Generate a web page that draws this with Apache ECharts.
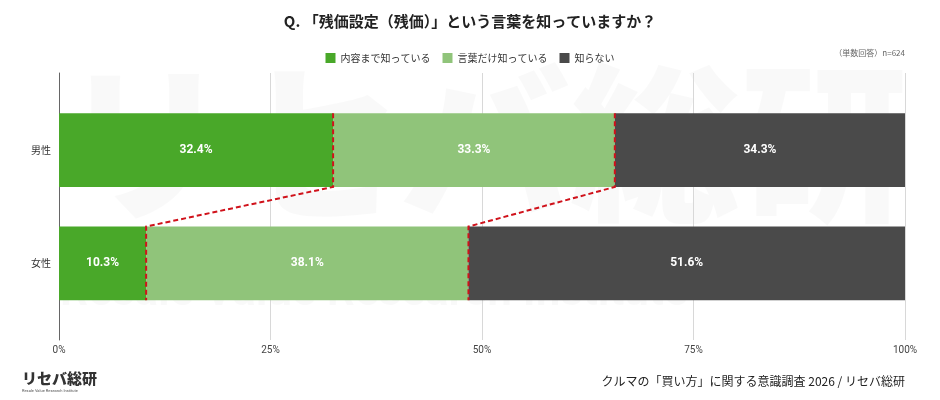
<!DOCTYPE html>
<html><head><meta charset="utf-8">
<script src="https://cdn.jsdelivr.net/npm/echarts@6/dist/echarts.min.js"></script>
<style>html,body{margin:0;padding:0;background:#fff}#c{width:940px;height:400px}</style>
</head><body><div id="c"></div>
<script>
const categories = ['男性', '女性'];
const seriesNames = ['内容まで知っている', '言葉だけ知っている', '知らない'];
const knowContent = [32.4, 10.3];
const knowWordOnly = [33.3, 38.1];
const dontKnow = [34.3, 51.6];
const tickValues = [0, 25, 50, 75, 100];

const FONT = '"Noto Sans CJK JP", "Noto Sans", sans-serif';
const colors = ['#49a829', '#90c47a', '#4a4a4a'];
const BAR_RATIO = 0.65;

const chart = echarts.init(document.getElementById('c'));

function labelFmt(p) { return p.value.toFixed(1) + '%'; }

const barSeries = [knowContent, knowWordOnly, dontKnow].map((d, i) => ({
  name: seriesNames[i], type: 'bar', stack: 'total', xAxisIndex: 0, yAxisIndex: 0,
  barWidth: (BAR_RATIO * 100) + '%', data: d, z: 3,
  itemStyle: { color: colors[i] },
  label: { show: true, position: 'inside', color: '#fff', fontSize: 12, fontWeight: 'bold', fontFamily: 'Roboto, sans-serif', formatter: labelFmt }
}));

const connector = {
  type: 'custom', xAxisIndex: 0, yAxisIndex: 0, z: 5, silent: true,
  data: [[0, 0]],
  renderItem: function (params, api) {
    const band = api.size([0, 1])[1];
    const half = band * BAR_RATIO / 2;
    const children = [];
    const b1 = categories.map((c, i) => knowContent[i]);
    const b2 = categories.map((c, i) => knowContent[i] + knowWordOnly[i]);
    [b1, b2].forEach(b => {
      const p0 = api.coord([b[0], 0]);
      const p1 = api.coord([b[1], 1]);
      children.push({
        type: 'polyline',
        shape: { points: [[p0[0], p0[1] - half], [p0[0], p0[1] + half], [p1[0], p1[1] - half], [p1[0], p1[1] + half]] },
        style: { stroke: '#d0121b', lineWidth: 2, lineDash: [5, 3], fill: null }
      });
    });
    return { type: 'group', children: children };
  }
};

chart.setOption({
  backgroundColor: '#fff',
  animation: false,
  title: {
    text: 'Q. 「残価設定（残価）」という言葉を知っていますか？',
    left: 'center', top: 9,
    textStyle: { fontFamily: FONT, fontSize: 15, fontWeight: 'bold', color: '#222' }
  },
  legend: {
    top: 48, left: 'center', itemWidth: 10, itemHeight: 10, itemGap: 12,
    icon: 'rect', data: seriesNames,
    textStyle: { fontFamily: FONT, fontSize: 10, color: '#333' }
  },
  graphic: [
    { type: 'text', left: 60, top: 58, z: -10, silent: true,
      style: { text: 'リセバ総研', fontFamily: FONT, fontSize: 170, fontWeight: 900, fill: 'rgba(0,0,0,0.022)' } },
    { type: 'text', left: 60, top: 272, z: -10, silent: true,
      style: { text: 'Resale Value Research Institute', fontFamily: 'Roboto, sans-serif', fontSize: 44, fontWeight: 'bold', fill: 'rgba(0,0,0,0.025)' } },
    { type: 'text', right: 35, top: 49,
      style: { text: '（単数回答）n=624', fontFamily: FONT, fontSize: 8, fill: '#666' } },
    { type: 'text', right: 35, top: 375,
      style: { text: 'クルマの「買い方」に関する意識調査 2026 / リセバ総研', fontFamily: FONT, fontSize: 12, fill: '#222' } },
    { type: 'text', left: 22, top: 371,
      style: { text: 'リセバ総研', fontFamily: FONT, fontSize: 15, fontWeight: 900, fill: '#333' } },
    { type: 'text', left: 22, top: 389,
      style: { text: 'Resale Value Research Institute', fontFamily: 'Roboto, sans-serif', fontSize: 4, fill: '#555' } }
  ],
  grid: [
    { left: 59, right: 35, top: 93.5, height: 226.5 },
    { left: 59, right: 35, top: 73, bottom: 60 }
  ],
  xAxis: [
    { gridIndex: 0, type: 'value', min: 0, max: 100, show: false },
    { gridIndex: 1, type: 'value', min: 0, max: 100, interval: 25,
      axisLine: { show: false }, axisTick: { show: false },
      splitLine: { show: true, lineStyle: { color: '#d8d8d8', width: 1 } },
      axisLabel: { margin: 5, fontFamily: 'Roboto, sans-serif', fontSize: 10, color: '#444',
        formatter: v => tickValues.includes(v) ? v + '%' : '' } }
  ],
  yAxis: [
    { gridIndex: 0, type: 'category', data: categories, inverse: true,
      axisLine: { show: false }, axisTick: { show: false }, splitLine: { show: false },
      axisLabel: { margin: 8, fontFamily: FONT, fontSize: 10, color: '#333' } },
    { gridIndex: 1, type: 'category', data: [''], 
      axisLine: { show: true, lineStyle: { color: '#666', width: 1 } },
      axisTick: { show: false }, axisLabel: { show: false }, splitLine: { show: false } }
  ],
  series: barSeries.concat([connector])
});
</script>
</body></html>
